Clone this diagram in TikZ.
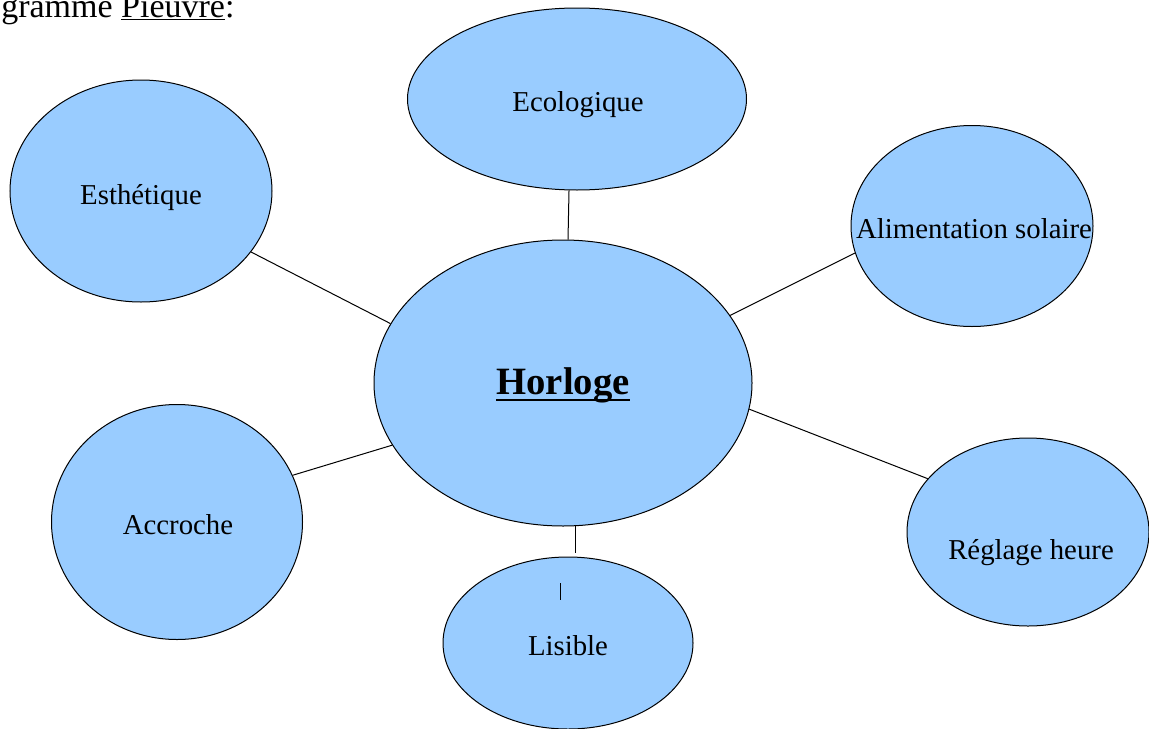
\documentclass[tikz,border=0pt]{standalone}
\usepackage{fontspec}
\setmainfont{Liberation Serif}
\usetikzlibrary{shapes.geometric}
\definecolor{bubblue}{HTML}{99CCFF}
\tikzset{
  bub/.style={ellipse, draw=black, fill=bubblue, line width=0.75pt, inner sep=0pt},
  lab/.style={anchor=base, inner sep=0pt, font=\fontsize{21.6}{25}\selectfont},
  conn/.style={draw=black, line width=0.75pt},
}
\begin{document}
\begin{tikzpicture}[x=0.75pt,y=-0.75pt]
\clip (0,0) rectangle (1149,728);
\fill[white] (0,0) rectangle (1149,728);
% title fragment
\node[anchor=base west, inner sep=0pt, font=\fontsize{25.5}{30}\selectfont] (title) at (1,17) {gramme \underline{Pieuvre}:};
% bubbles
\node[bub, minimum width={339*0.75pt}, minimum height={182*0.75pt}] (eco) at (577,99) {};
\node[bub, minimum width={262*0.75pt}, minimum height={222*0.75pt}] (est) at (141,191) {};
\node[bub, minimum width={242*0.75pt}, minimum height={201*0.75pt}] (ali) at (972,226) {};
\node[bub, minimum width={378*0.75pt}, minimum height={286*0.75pt}] (hor) at (563,383) {};
\node[bub, minimum width={251*0.75pt}, minimum height={235*0.75pt}] (acc) at (177,522) {};
\node[bub, minimum width={242*0.75pt}, minimum height={188*0.75pt}] (reg) at (1028,532) {};
\node[bub, minimum width={250*0.75pt}, minimum height={172*0.75pt}] (lis) at (568,643) {};
% labels
\node[lab] (teco) at (578,111) {Ecologique};
\node[lab] (test) at (141,204) {Esthétique};
\node[lab] (tali) at (974,238) {Alimentation solaire};
\node[lab, font=\fontsize{29}{34}\selectfont\bfseries] (thor) at (563,394) {Horloge};
\draw[line width=1.5pt] ([yshift=-4.6pt]thor.base west) -- ([yshift=-4.6pt]thor.base east);
\node[lab] (tacc) at (178,534) {Accroche};
\node[lab] (treg) at (1031,559) {Réglage heure};
\node[lab] (tlis) at (568,655) {Lisible};
% connectors
\draw[conn] (eco.-95) -- (hor.88.4);
\draw[conn] (est.-29.9) -- (hor.161);
\draw[conn] (ali.193.7) -- (hor.22.1);
\draw[conn] (hor.-8.5) -- (reg.152.6);
\draw[conn] (acc.22.8) -- (hor.200.2);
\draw[conn] (hor.-85.9) -- ([yshift=3pt]hor.-85.9 |- lis.north);
% small stroke inside Lisible
\coordinate (s1) at (560,583);
\coordinate (s2) at (560,600);
\draw[conn] (s1) -- (s2);
\end{tikzpicture}
\end{document}
